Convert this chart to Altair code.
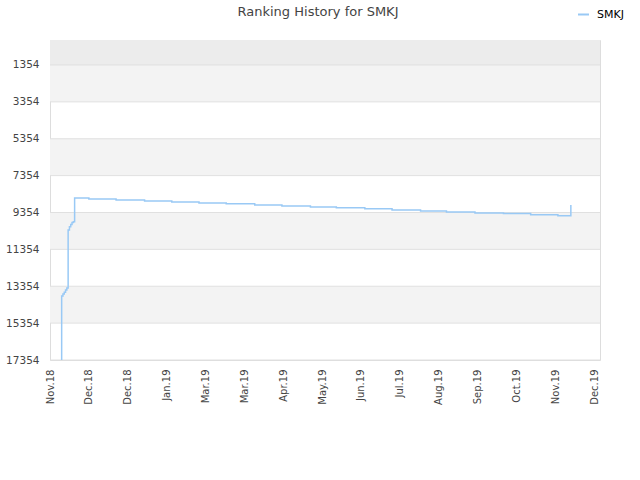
import altair as alt
import pandas as pd

# Ranking history (date, rank)
dates = ["2018-11-10", "2018-11-10", "2018-11-11", "2018-11-12", "2018-11-13", "2018-11-14",
         "2018-11-15", "2018-11-15", "2018-11-16", "2018-11-17", "2018-11-18", "2018-11-19",
         "2018-11-20", "2018-12-01", "2018-12-22", "2019-01-13", "2019-02-03", "2019-02-24",
         "2019-03-17", "2019-04-08", "2019-04-29", "2019-05-21", "2019-06-10", "2019-07-02",
         "2019-07-23", "2019-08-14", "2019-09-03", "2019-09-25", "2019-10-17", "2019-11-07",
         "2019-11-28", "2019-12-08"]
ranks = [17354, 13883, 13780, 13680, 13560, 13450,
         13341, 10304, 10125, 10000, 9900, 9854,
         8570, 8623, 8677, 8731, 8785, 8839,
         8883, 8948, 9002, 9056, 9100, 9149,
         9219, 9273, 9327, 9381, 9409, 9474,
         9528, 8948]
series_name = "SMKJ"
title_text = ["Ranking History for SMKJ"]

tick_dates = ["2018-11-01", "2018-12-01", "2018-12-31", "2019-01-30", "2019-03-01",
              "2019-03-31", "2019-04-30", "2019-05-30", "2019-06-29", "2019-07-29",
              "2019-08-28", "2019-09-27", "2019-10-27", "2019-11-26", "2019-12-26"]
y_ticks = [1354, 3354, 5354, 7354, 9354, 11354, 13354, 15354, 17354]

band_starts = [0, 1354, 5354, 9354, 13354]
band_ends = [1354, 3354, 7354, 11354, 15354]
band_colors = ["#ececec", "#f3f3f3", "#f3f3f3", "#f3f3f3", "#f3f3f3"]


def dt(s, hours=0):
    y, m, d = (int(p) for p in s.split("-"))
    return alt.DateTime(year=y, month=m, date=d, hours=hours)


df = pd.DataFrame({"date": [d + "T00:00:00" for d in dates], "rank": ranks,
                   "series": [series_name] * len(dates)})
bands = pd.DataFrame({"y0": band_starts, "y1": band_ends, "c": band_colors})
grid = pd.DataFrame({"y": y_ticks})
titles = pd.DataFrame({"t": title_text})

yscale = alt.Scale(domain=[0, 17354], reverse=True, nice=False, zero=False)
xscale = alt.Scale(domain=[dt("2018-11-01"), dt("2019-12-30", 12)], nice=False)

yaxis = alt.Axis(values=y_ticks, grid=False, ticks=False, format="d",
                 domain=False, labelPadding=11, labelFontSize=10.5,
                 labelColor="#444444", labelFont="DejaVu Sans")

rects = alt.Chart(bands).mark_rect().encode(
    x=alt.value(0), x2=alt.value(550),
    y=alt.Y("y0:Q", scale=yscale, axis=yaxis, title=None),
    y2="y1:Q",
    fill=alt.Fill("c:N", scale=None, legend=None),
)

rules = alt.Chart(grid).mark_rule(color="#e0e0e0", strokeWidth=1).encode(
    x=alt.value(0), x2=alt.value(550),
    y=alt.Y("y:Q", scale=yscale, axis=yaxis, title=None),
)

line = alt.Chart(df).mark_line(interpolate="step-after", strokeWidth=1.5, clip=True).encode(
    x=alt.X("date:T", scale=xscale, title=None,
            axis=alt.Axis(values=[dt(t) for t in tick_dates], format="%b.%y",
                          labelAngle=270, labelAlign="right", labelBaseline="middle",
                          grid=False, ticks=False, domain=False, labelPadding=9,
                          labelFontSize=10, labelColor="#444444", labelFont="DejaVu Sans")),
    y=alt.Y("rank:Q", scale=yscale, title=None, axis=yaxis),
    stroke=alt.Stroke("series:N", scale=alt.Scale(range=["#99c9f5"]),
                      legend=alt.Legend(title=None, orient="none", legendX=527, legendY=-32,
                                        symbolType="stroke", symbolStrokeWidth=2,
                                        symbolSize=120, labelFontSize=11, labelOffset=7,
                                        labelColor="#000000", labelFont="DejaVu Sans")),
)

title = alt.Chart(titles).mark_text(fontSize=13, color="#444444", font="DejaVu Sans",
                                    align="center", baseline="middle").encode(
    text="t:N", x=alt.value(268), y=alt.value(-28),
)

chart = alt.layer(rects, rules, line, title).resolve_scale(
    fill="independent", stroke="independent"
).properties(
    width=550, height=320,
    padding={"left": 50, "top": 40, "right": 40, "bottom": 120},
    autosize=alt.AutoSizeParams(type="none"),
).configure_view(stroke="#dddddd", strokeWidth=1)

chart.save("out.html", embed_options={"renderer": "svg", "actions": False})
